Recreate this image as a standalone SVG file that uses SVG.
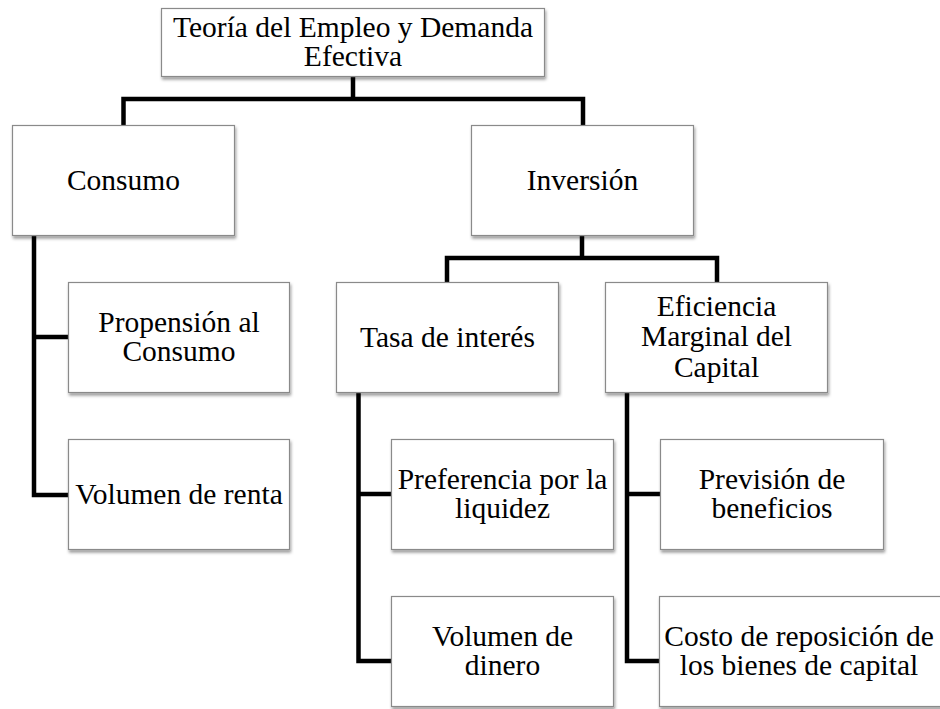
<svg xmlns="http://www.w3.org/2000/svg" width="940" height="709" viewBox="0 0 940 709">
<style>
.box{fill:#fff;stroke:#8a8a8a;stroke-width:1.2;filter:url(#sh)}
.t{font-size:29.5px;fill:#000;text-anchor:middle}
.c{fill:none;stroke:#000;stroke-width:4.5;stroke-linejoin:miter;stroke-linecap:square}
</style>
<defs>
<filter id="sh" x="-10%" y="-10%" width="130%" height="140%">
<feDropShadow dx="1" dy="2.5" stdDeviation="1.8" flood-color="#000" flood-opacity="0.4"/>
</filter>
</defs>
<rect width="940" height="709" fill="#fff"/>
<g id="connectors">
<path class="c" d="M353,77 V99 M123.5,99 H583 M123.5,99 V124 M583,99 V124"/>
<path class="c" d="M34,236 V495 H67 M34,337 H67"/>
<path class="c" d="M582,236 V258 M447,258 H717 M447,258 V281 M717,258 V281"/>
<path class="c" d="M358.5,393 V661 H390 M358.5,494 H390"/>
<path class="c" d="M627,393 V661 H658 M627,494 H659"/>
</g>
<g font-family="Liberation Serif, Times New Roman, serif">
<g id="n-top">
<rect class="box" x="161.5" y="8.5" width="383" height="68"/>
<text class="t" x="353" y="37">Teoría del Empleo y Demanda</text>
<text class="t" x="353" y="65.5">Efectiva</text>
</g>
<g id="n-consumo">
<rect class="box" x="12.5" y="125.5" width="222" height="110"/>
<text class="t" x="123.5" y="190">Consumo</text>
</g>
<g id="n-inversion">
<rect class="box" x="471.5" y="125.5" width="222" height="110"/>
<text class="t" x="582.5" y="190">Inversión</text>
</g>
<g id="n-propension">
<rect class="box" x="68.5" y="282.5" width="221" height="110"/>
<text class="t" x="179" y="332">Propensión al</text>
<text class="t" x="179" y="360.5">Consumo</text>
</g>
<g id="n-renta">
<rect class="box" x="68.5" y="439.5" width="221" height="110"/>
<text class="t" x="179" y="504">Volumen de renta</text>
</g>
<g id="n-tasa">
<rect class="box" x="336.5" y="282.5" width="222" height="110"/>
<text class="t" x="447.5" y="347">Tasa de interés</text>
</g>
<g id="n-eficiencia">
<rect class="box" x="605.5" y="282.5" width="222" height="110"/>
<text class="t" x="716.5" y="316">Eficiencia</text>
<text class="t" x="716.5" y="346">Marginal del</text>
<text class="t" x="716.5" y="376.5">Capital</text>
</g>
<g id="n-preferencia">
<rect class="box" x="391.5" y="439.5" width="222" height="110"/>
<text class="t" x="502.5" y="489">Preferencia por la</text>
<text class="t" x="502.5" y="517.5">liquidez</text>
</g>
<g id="n-dinero">
<rect class="box" x="391.5" y="596.5" width="222" height="110"/>
<text class="t" x="502.5" y="646">Volumen de</text>
<text class="t" x="502.5" y="674.5">dinero</text>
</g>
<g id="n-prevision">
<rect class="box" x="660.5" y="439.5" width="223" height="110"/>
<text class="t" x="772" y="489">Previsión de</text>
<text class="t" x="772" y="517.5">beneficios</text>
</g>
<g id="n-costo">
<rect class="box" x="659.5" y="596.5" width="290" height="110"/>
<text class="t" x="799" y="646">Costo de reposición de</text>
<text class="t" x="799" y="674.5">los bienes de capital</text>
</g>
</g>
</svg>
